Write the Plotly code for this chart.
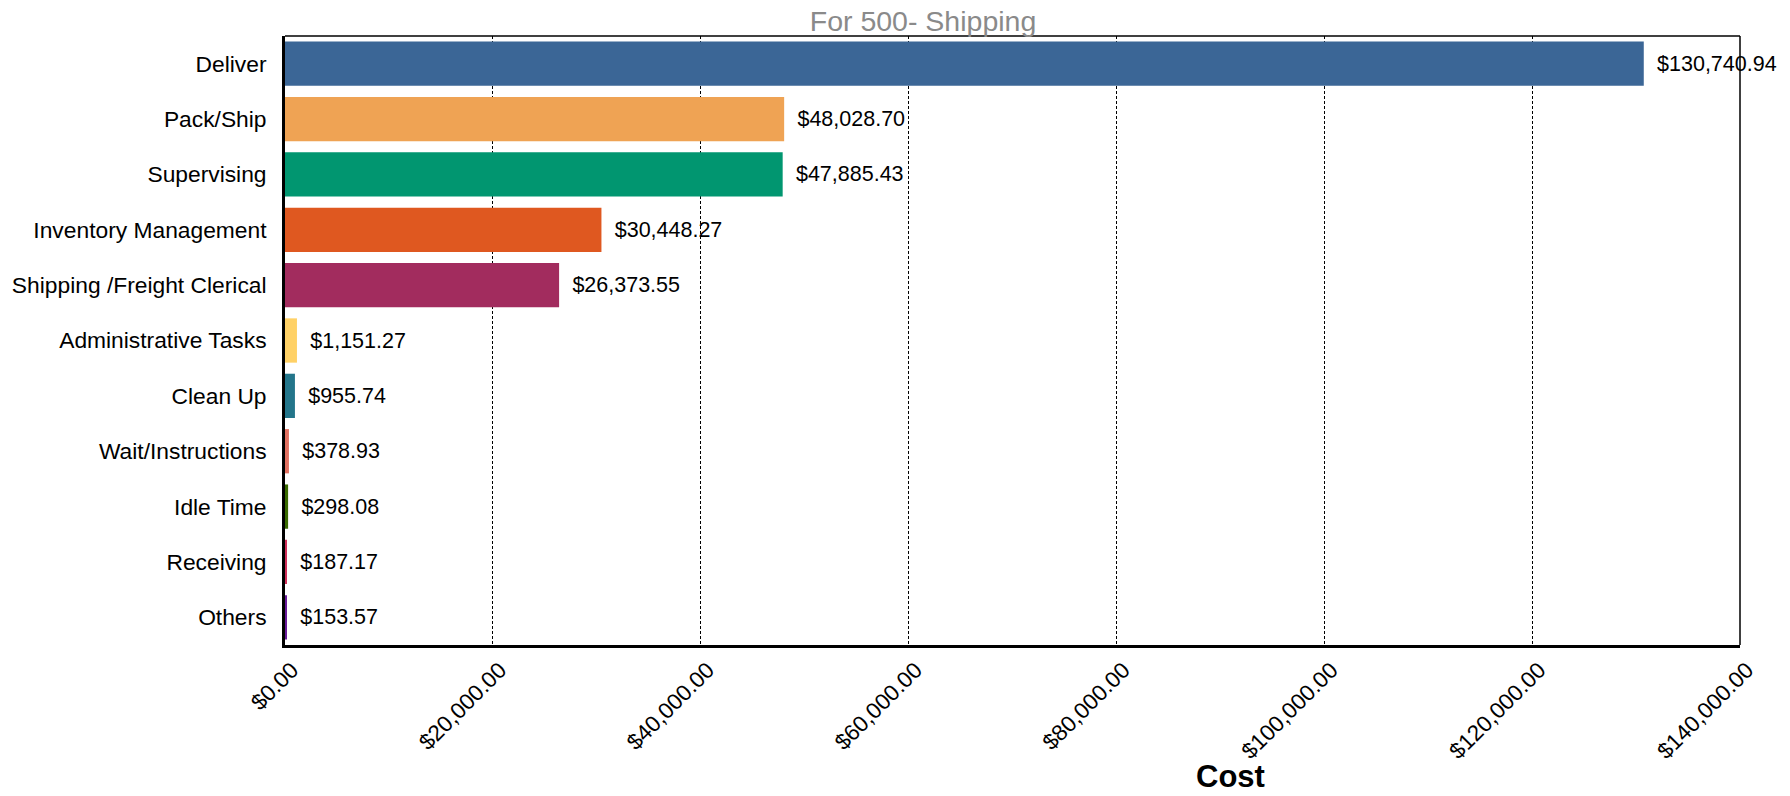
import plotly.graph_objects as go

categories = ["Deliver", "Pack/Ship", "Supervising", "Inventory Management",
              "Shipping /Freight Clerical", "Administrative Tasks", "Clean Up",
              "Wait/Instructions", "Idle Time", "Receiving", "Others"]
costs = [130740.94, 48028.70, 47885.43, 30448.27, 26373.55, 1151.27, 955.74,
         378.93, 298.08, 187.17, 153.57]
colors = ["#3B6696", "#EFA354", "#019670", "#DF5820", "#A22C5E", "#FFD166",
          "#23758A", "#E07060", "#3A6B00", "#D0305A", "#6A1B9A"]
tick_vals = [0, 20000, 40000, 60000, 80000, 100000, 120000, 140000]
tick_text = ["$" + f"{v:,.2f}" for v in tick_vals]
labels = [" \u2009$" + f"{v:,.2f}" for v in costs]

FONT = "Liberation Sans, Arial, sans-serif"

W, H = 1790, 796
L, R, T, B = 285, 50, 36, 151

fig = go.Figure()
fig.add_trace(go.Bar(
    y=categories, x=costs, orientation="h",
    marker=dict(color=colors, line=dict(width=0)),
    text=labels, textposition="outside", cliponaxis=False,
    constraintext="none",
    textfont=dict(family=FONT, size=21.5, color="black"),
    width=0.8,
))

fig.update_layout(
    width=W, height=H,
    margin=dict(l=L, r=R, t=T, b=B, autoexpand=False),
    paper_bgcolor="white", plot_bgcolor="white",
    showlegend=False,
    font=dict(family=FONT, color="black", size=22),
    title=dict(text="For 500- Shipping", x=923 / W, xanchor="center",
               y=1 - 21 / H, yanchor="middle",
               font=dict(family=FONT, size=28.5, color="#8a8a8a")),
    xaxis=dict(range=[0, 140000], tickvals=tick_vals, ticktext=tick_text,
               tickangle=-45, tickfont=dict(size=22.5, color="black"),
               ticklabelshift=7,
               showgrid=True, gridcolor="black", gridwidth=1, griddash="3px,2px",
               showline=True, linecolor="black", linewidth=3,
               zeroline=False, ticks=""),
    yaxis=dict(categoryorder="array", categoryarray=categories,
               autorange="reversed", tickfont=dict(size=22.8, color="black"),
               showline=True, linecolor="black", linewidth=3,
               ticks="", showgrid=False, zeroline=False, ticksuffix=" \u2009"),
)

fig.add_shape(type="line", xref="paper", yref="paper", x0=0, x1=1, y0=1, y1=1,
              line=dict(color="black", width=1.5))
fig.add_shape(type="line", xref="paper", yref="paper", x0=1, x1=1, y0=0, y1=1,
              line=dict(color="black", width=1.5))

pw = W - L - R
ph = H - T - B
fig.add_annotation(text="<b>Cost</b>", xref="paper", yref="paper",
                   x=(1230 - L) / pw, y=-(776 - (H - B)) / ph,
                   xanchor="center", yanchor="middle", showarrow=False,
                   font=dict(family=FONT, size=31, color="black"))

fig.write_html("out.html",
               config={"displayModeBar": False},
               post_script="document.body.style.margin='0';"
                           "document.body.style.overflow='hidden';")
